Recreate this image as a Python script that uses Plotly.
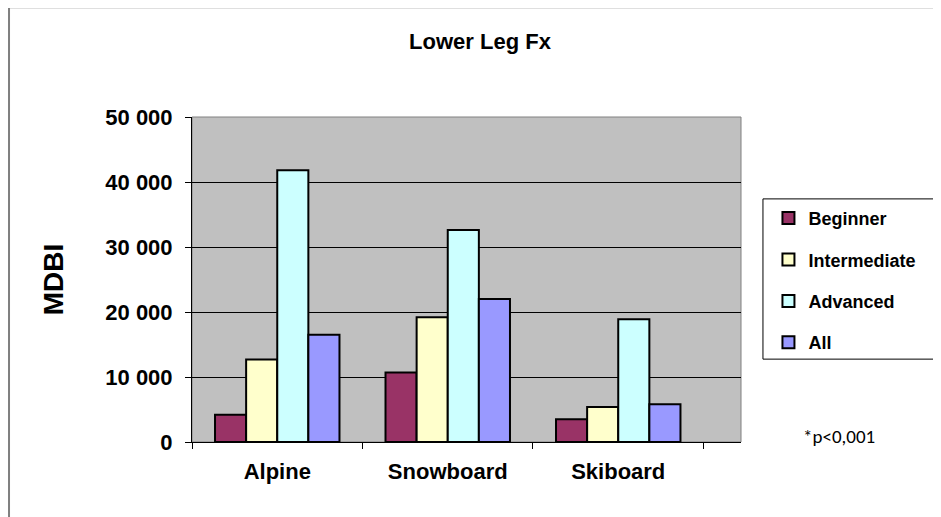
import plotly.graph_objects as go

# ---------------------------------------
# Data
# ---------------------------------------
categories = ["Alpine", "Snowboard", "Skiboard"]
beginner = [4200, 10700, 3500]
intermediate = [12700, 19200, 5400]
advanced = [41800, 32600, 18900]
all_levels = [16500, 22000, 5800]

y_ticks = [0, 10000, 20000, 30000, 40000, 50000]
y_tick_labels = ["0", "10 000", "20 000", "30 000", "40 000", "50 000"]

series = [
    ("Beginner", beginner, "#993366"),
    ("Intermediate", intermediate, "#FFFFCC"),
    ("Advanced", advanced, "#CCFFFF"),
    ("All", all_levels, "#9999FF"),
]

FONT = "Liberation Sans, Arial, sans-serif"

fig = go.Figure()

for i, (name, vals, color) in enumerate(series):
    fig.add_trace(
        go.Bar(
            x=categories,
            y=vals,
            name=f"<b>{name}</b>",
            legendgroup=f"g{i}",
            marker=dict(color=color, line=dict(color="black", width=2)),
        )
    )

fig.update_layout(
    width=933,
    height=509,
    margin=dict(l=184, r=200, t=109, b=75),
    paper_bgcolor="white",
    plot_bgcolor="#C0C0C0",
    barmode="group",
    bargap=0.27,
    bargroupgap=0,
    font=dict(family=FONT, color="black"),
    title=dict(
        text="<b>Lower Leg Fx</b>",
        xref="paper",
        x=0.5246,
        xanchor="center",
        yref="container",
        y=0.935,
        yanchor="middle",
        font=dict(size=22, family=FONT),
    ),
    showlegend=True,
    legend=dict(
        x=1.05,
        xanchor="left",
        y=0.745,
        yanchor="top",
        bgcolor="rgba(0,0,0,0)",
        borderwidth=0,
        font=dict(size=18, family=FONT),
        tracegroupgap=15,
        itemwidth=30,
    ),
)

fig.update_xaxes(
    range=[-0.5, 2.72],
    tickson="boundaries",
    ticks="outside",
    ticklen=6,
    tickcolor="black",
    showline=True,
    linecolor="black",
    linewidth=1,
    tickfont=dict(size=22, family=FONT),
    tickprefix="<b>",
    ticksuffix="</b>",
    ticklabelstandoff=10,
    showgrid=False,
)

fig.update_yaxes(
    range=[0, 50000],
    tickmode="array",
    tickvals=y_ticks,
    ticktext=[f"<b>{t}</b>" for t in y_tick_labels],
    ticks="outside",
    ticklen=6,
    tickcolor="black",
    showline=True,
    linecolor="black",
    linewidth=1,
    showgrid=True,
    gridcolor="black",
    gridwidth=1,
    zeroline=False,
    tickfont=dict(size=22, family=FONT),
    ticklabelstandoff=8,
    title=dict(text="<b>MDBI</b>", font=dict(size=28, family=FONT), standoff=33),
)

# outer chart border
fig.add_shape(
    type="rect", xref="paper", yref="paper",
    x0=-0.3333, x1=1.45, y0=-0.4, y1=1.338,
    line=dict(color="#808080", width=2), layer="below",
)
# plot area border
fig.add_shape(
    type="rect", xref="paper", yref="paper",
    x0=0, x1=1, y0=0, y1=1,
    line=dict(color="#808080", width=1), layer="below",
)
# legend box
fig.add_shape(
    type="rect", xref="paper", yref="paper",
    x0=1.040, x1=1.41, y0=0.255, y1=0.748,
    line=dict(color="black", width=1), fillcolor="white", layer="below",
)

fig.add_annotation(
    text="*p<0,001",
    xref="paper", yref="paper",
    x=1.1785, y=0.018,
    xanchor="center", yanchor="middle",
    showarrow=False,
    font=dict(size=19, family="Carlito, Liberation Sans, sans-serif"),
)

fig.write_html("out.html")
